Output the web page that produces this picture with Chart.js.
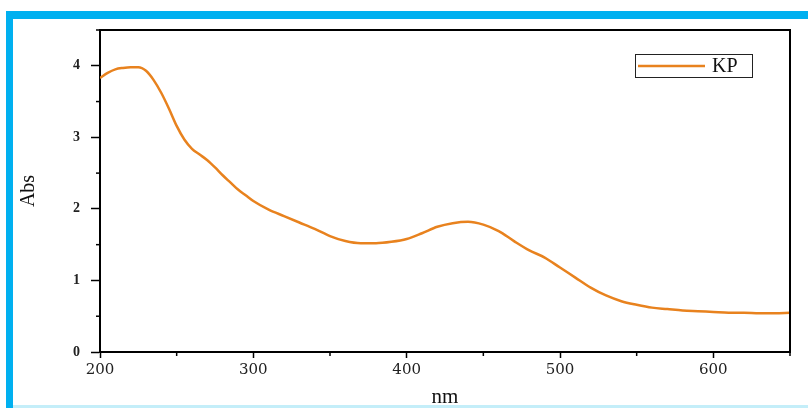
<!DOCTYPE html>
<html>
<head>
<meta charset="utf-8">
<script src="https://cdn.jsdelivr.net/npm/chart.js@4"></script>
<style>
  html, body { margin: 0; padding: 0; background: #fff; }
  #wrap { position: relative; width: 808px; height: 408px; overflow: hidden; background: #fff; }
  .band { position: absolute; }
  #c { position: absolute; left: 0; top: 0; }
</style>
</head>
<body>
<div id="wrap">
  <div class="band" style="left:6px;top:11px;width:802px;height:8px;background:#00B0F0;"></div>
  <div class="band" style="left:6px;top:11px;width:7px;height:397px;background:#00B0F0;"></div>
  <div class="band" style="left:13px;top:405px;width:795px;height:3px;background:#C4EEF9;"></div>
  <canvas id="c" width="808" height="408"></canvas>
</div>
<script>
// Wavelength (nm)
const wavelengths = [200,205,210,215,220,225,230,235,240,245,250,255,260,265,270,275,280,285,290,295,300,
  310,320,330,340,350,360,370,380,390,400,410,420,430,440,450,460,470,480,490,500,
  510,520,530,540,550,560,570,580,590,600,610,620,630,640,650];
// Absorbance of KP
const absKP = [3.83,3.90,3.95,3.97,3.98,3.98,3.93,3.80,3.62,3.40,3.16,2.97,2.84,2.76,2.68,2.58,2.47,2.37,2.27,2.19,2.11,
  1.99,1.90,1.81,1.72,1.62,1.55,1.52,1.52,1.54,1.58,1.66,1.75,1.80,1.82,1.78,1.69,1.55,1.42,1.32,1.18,
  1.04,0.90,0.79,0.71,0.66,0.62,0.60,0.58,0.57,0.56,0.55,0.55,0.54,0.54,0.55];
const seriesLabel = 'KP';
const xMajorLabels = [200,300,400,500,600];
const yMajorLabels = [0,1,2,3,4];

const points = wavelengths.map((w, i) => ({x: w, y: absKP[i]}));

const framePlugin = {
  id: 'frame',
  afterDraw(chart) {
    const {ctx, chartArea: a, scales} = chart;
    ctx.save();
    ctx.strokeStyle = '#000';
    ctx.lineWidth = 2;
    ctx.beginPath();
    ctx.moveTo(a.left, a.top); ctx.lineTo(a.right, a.top); ctx.lineTo(a.right, a.bottom);
    ctx.stroke();
    // minor ticks
    ctx.lineWidth = 1.5;
    scales.x.ticks.forEach(t => {
      if (t.value % 100 !== 0) {
        const px = scales.x.getPixelForValue(t.value);
        ctx.beginPath(); ctx.moveTo(px, a.bottom); ctx.lineTo(px, a.bottom + 4); ctx.stroke();
      }
    });
    scales.y.ticks.forEach(t => {
      if (Math.abs(t.value % 1) > 1e-6) {
        const py = scales.y.getPixelForValue(t.value);
        ctx.beginPath(); ctx.moveTo(a.left, py); ctx.lineTo(a.left - 4, py); ctx.stroke();
      }
    });
    // legend
    const ds = chart.data.datasets[0];
    const bx = a.right - 155, by = a.top + 24, bw = 117, bh = 23;
    ctx.lineWidth = 1;
    ctx.strokeStyle = '#222';
    ctx.strokeRect(bx + 0.5, by + 0.5, bw, bh);
    ctx.strokeStyle = ds.borderColor;
    ctx.lineWidth = 2.5;
    ctx.beginPath(); ctx.moveTo(bx + 3, by + 12); ctx.lineTo(bx + 70, by + 12); ctx.stroke();
    ctx.fillStyle = '#111';
    ctx.font = '20px "Liberation Serif"';
    ctx.textBaseline = 'middle';
    ctx.textAlign = 'left';
    ctx.fillText(ds.label, bx + 77, by + 13);
    ctx.restore();
  }
};

new Chart(document.getElementById('c'), {
  type: 'line',
  data: {
    datasets: [{
      label: seriesLabel,
      data: points,
      borderColor: '#E8821E',
      borderWidth: 2.5,
      pointRadius: 0,
      fill: false,
      cubicInterpolationMode: 'monotone'
    }]
  },
  options: {
    responsive: false,
    animation: false,
    devicePixelRatio: 1,
    layout: { padding: { left: 19, top: 30, right: 18, bottom: 0 } },
    plugins: { legend: { display: false }, tooltip: { enabled: false } },
    scales: {
      x: {
        type: 'linear',
        min: 200, max: 650,
        afterFit(s) { s.height = 56; },
        border: { color: '#000', width: 2 },
        grid: {
          drawOnChartArea: false,
          tickLength: 6,
          tickWidth: 1.5,
          tickColor: c => (c.tick && c.tick.value % 100 === 0) ? '#000' : 'rgba(0,0,0,0)'
        },
        ticks: {
          stepSize: 50,
          autoSkip: false,
          maxRotation: 0,
          padding: 3,
          color: '#222',
          font: { family: '"DejaVu Serif"', size: 15 },
          callback: v => xMajorLabels.includes(v) ? String(v) : ''
        },
        title: {
          display: true,
          text: 'nm',
          color: '#111',
          padding: { top: 0, bottom: 0 },
          font: { family: '"Liberation Serif"', size: 21, lineHeight: 1 }
        }
      },
      y: {
        type: 'linear',
        min: 0, max: 4.5,
        afterFit(s) { s.width = 81; },
        border: { color: '#000', width: 2 },
        grid: {
          drawOnChartArea: false,
          tickLength: 9,
          tickWidth: 1.5,
          tickColor: c => (c.tick && Math.abs(c.tick.value % 1) < 1e-6) ? '#000' : 'rgba(0,0,0,0)'
        },
        ticks: {
          stepSize: 0.5,
          autoSkip: false,
          padding: 11,
          color: '#222',
          font: { family: '"Liberation Serif"', size: 14, weight: 'bold' },
          callback: v => yMajorLabels.includes(v) ? String(v) : ''
        },
        title: {
          display: true,
          text: 'Abs',
          color: '#111',
          padding: { top: 0, bottom: 0 },
          font: { family: '"Liberation Serif"', size: 20, lineHeight: 1 }
        }
      }
    }
  },
  plugins: [framePlugin]
});
</script>
</body>
</html>
